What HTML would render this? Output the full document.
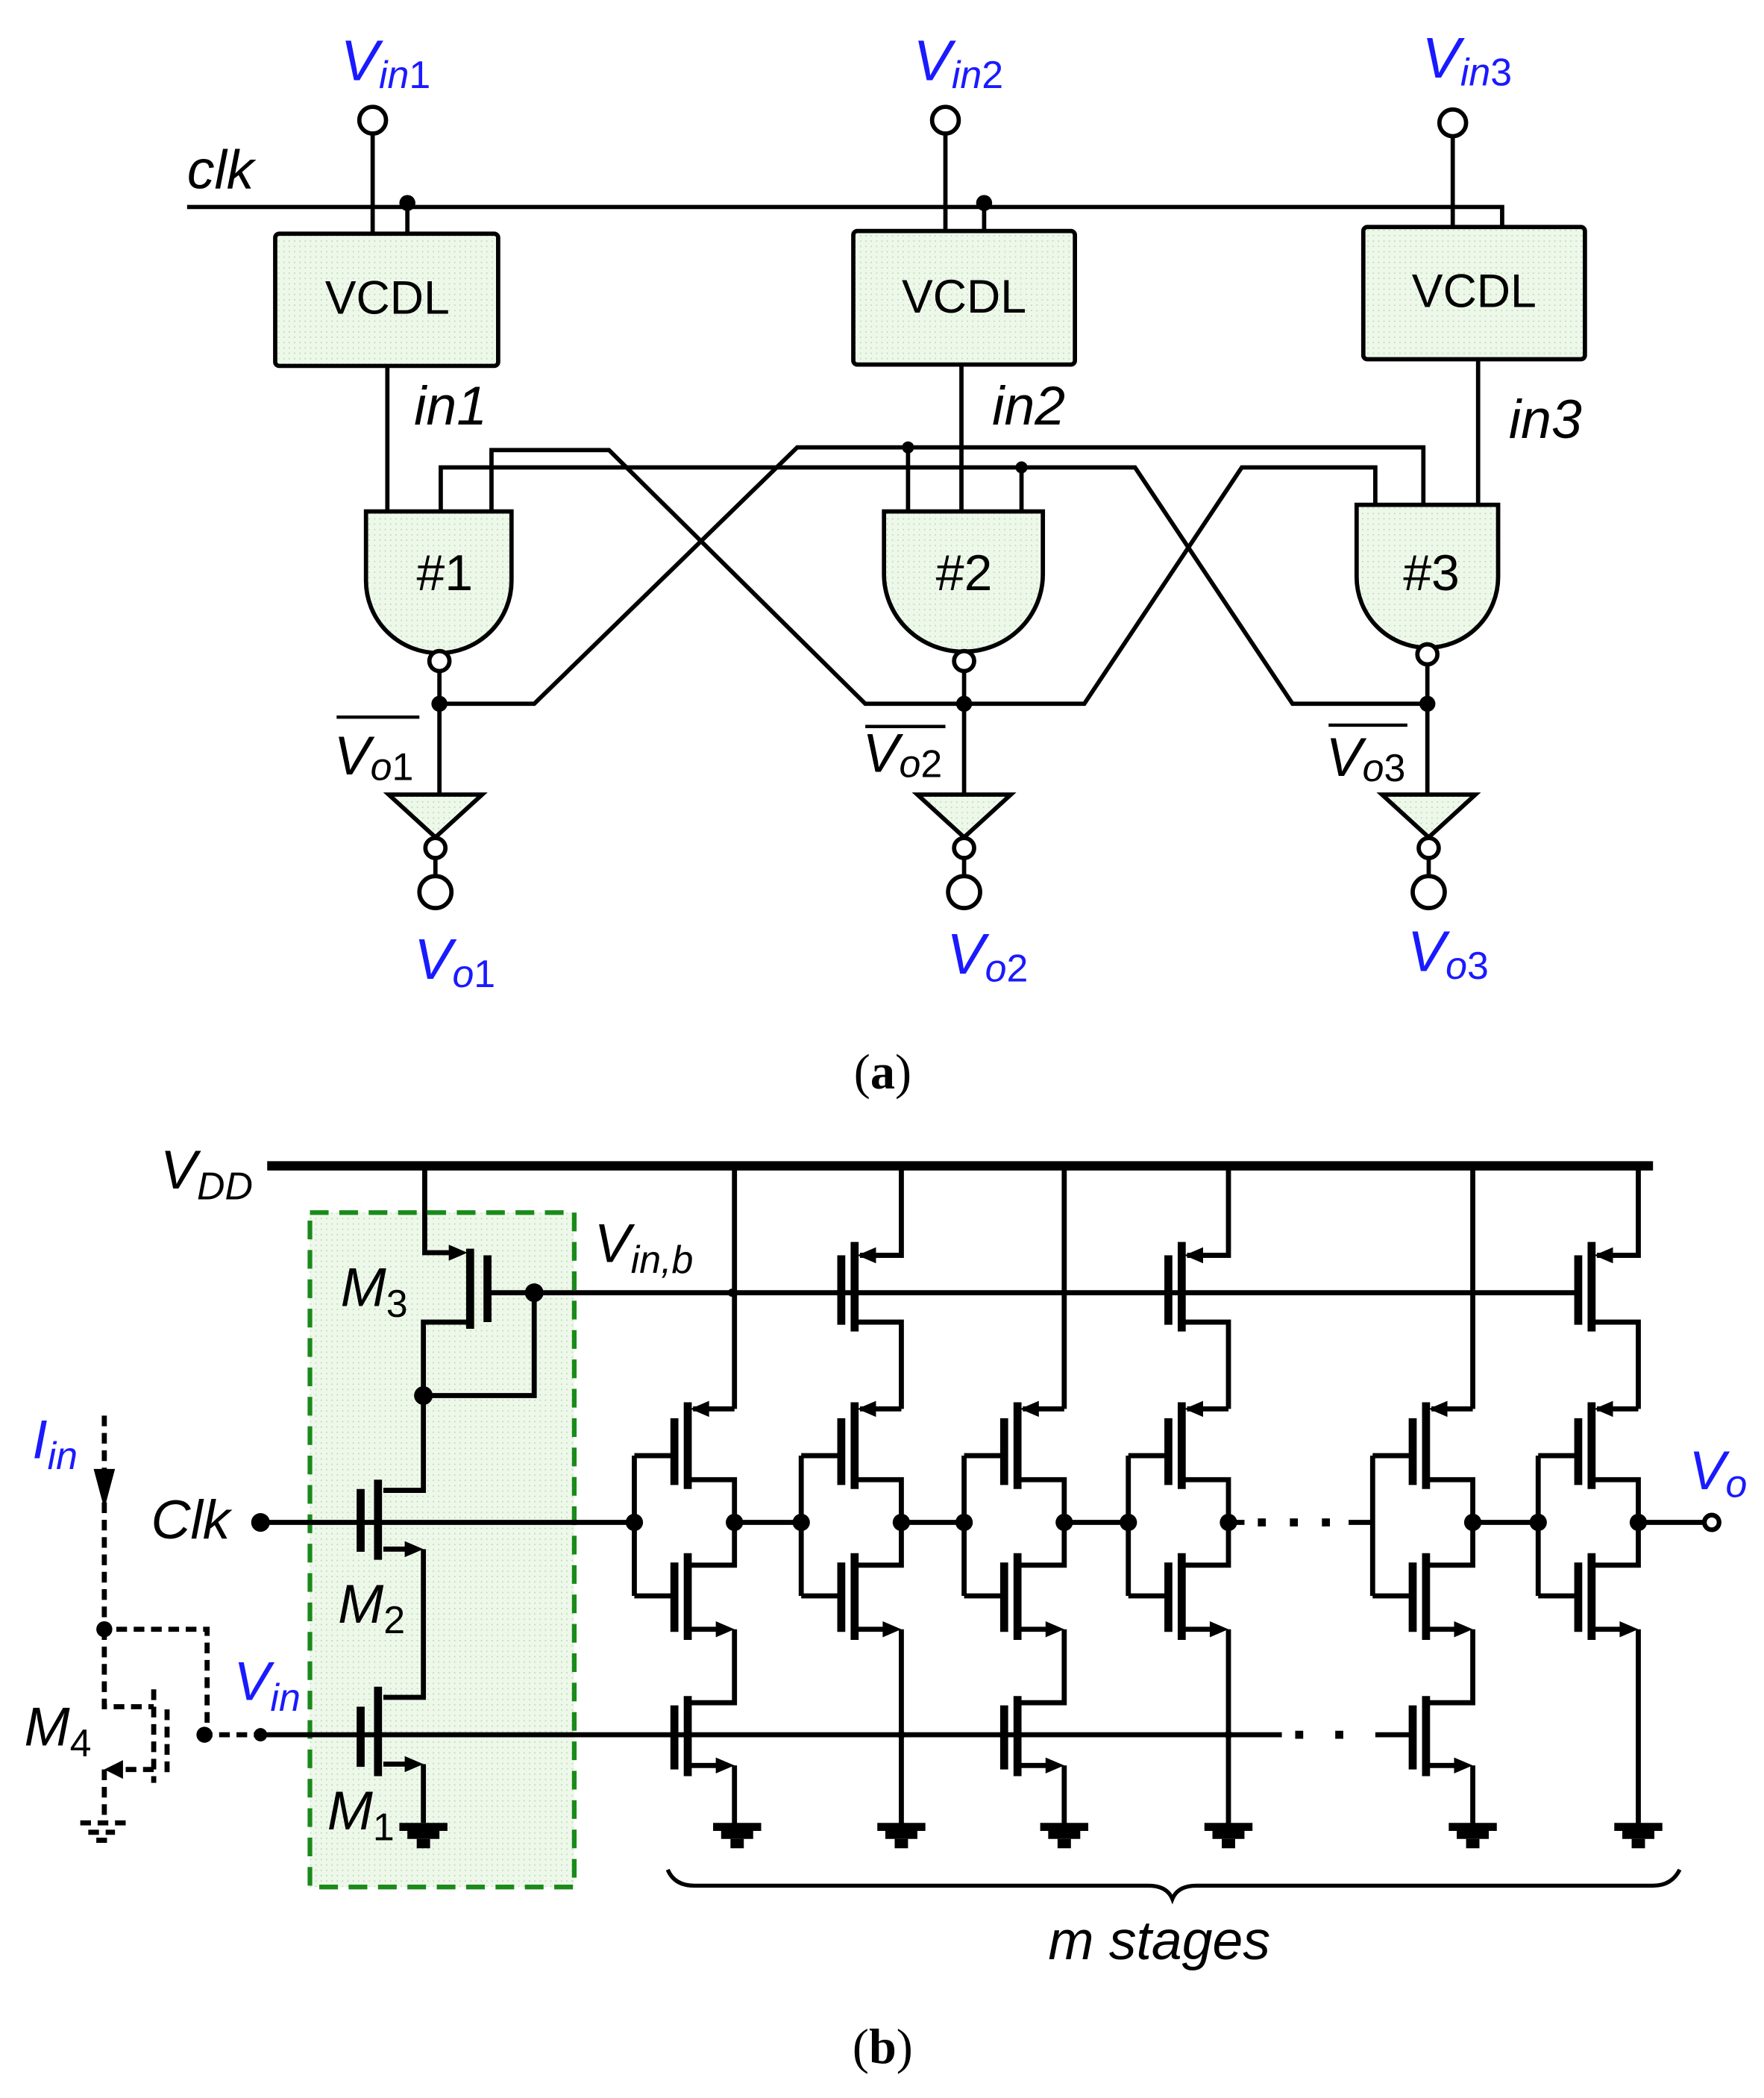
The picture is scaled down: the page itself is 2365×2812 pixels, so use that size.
<!DOCTYPE html>
<html><head><meta charset="utf-8"><style>
html,body{margin:0;padding:0;background:#fff}
svg{display:block}
text{font-family:"Liberation Sans",sans-serif}
</style></head><body>
<svg width="2365" height="2812" viewBox="0 0 1321 1571" xmlns="http://www.w3.org/2000/svg">
<defs>
<pattern id="dots" width="4" height="4" patternUnits="userSpaceOnUse">
<rect width="4" height="4" fill="#eef8ea"/><rect width="1" height="1" fill="#b8e0b0"/>
</pattern>
<g id="inv" stroke="#000" stroke-width="3.8" fill="none">
<path d="M0,1090 V1195 M0,1090 H30 M0,1195 H30"/>
<path d="M30,1062 V1112 M30,1170 V1222" stroke-width="6"/>
<path d="M40,1050 V1115 M40,1163 V1228" stroke-width="6"/>
<path d="M75,1055 H44 M40,1108 H75 V1172 H40 M40,1220 H62"/>
<polygon points="42,1055 56,1049 56,1061" fill="#000" stroke="none"/>
<polygon points="75,1220 61,1214 61,1226" fill="#000" stroke="none"/>
<circle cx="75" cy="1140" r="6.5" fill="#000" stroke="none"/>
</g>
<g id="nbot" stroke="#000" stroke-width="3.8" fill="none">
<path d="M75,1220 V1275 H40 M40,1322 H62 M75,1322 V1368"/>
<path d="M30,1277 V1325 M40,1270 V1330" stroke-width="6"/>
<polygon points="75,1322 61,1316 61,1328" fill="#000" stroke="none"/>
</g>
<g id="ptop" stroke="#000" stroke-width="3.8" fill="none">
<path d="M75,873 V940 H44 M40,990 H75 V1055"/>
<path d="M30,940 V992 M40,930 V997" stroke-width="6"/>
<polygon points="42,940 56,934 56,946" fill="#000" stroke="none"/>
</g>
<g id="gnd" fill="#000">
<rect x="-18" y="1365" width="36" height="6"/><rect x="-12" y="1371" width="24" height="6"/><rect x="-5" y="1377" width="10" height="7"/>
</g>
</defs>

<!-- ===== (a) ===== -->
<g stroke="#000" stroke-width="3.2" fill="none">
<path d="M140,155 H1125 V170"/>
<path d="M279,100 V175 M305,152 V175 M708,100 V173 M737,152 V173 M1088,102 V170"/>
<path d="M290,274 V383 M720,273 V383 M1107,269 V378"/>
<path d="M330,383 V350 H850 L968,527 H1069"/>
<path d="M368,383 V337 H456 L648,527 H722"/>
<path d="M680,383 V335 M765,383 V350"/>
<path d="M329,527 H400 L597,335 H1066 V378"/>
<path d="M1030,378 V350 H930 L812,527 H722"/>
<path d="M329,503 V595 M722,503 V595 M1069,498 V595"/>
</g>
<g fill="#000">
<circle cx="305" cy="152" r="6"/><circle cx="737" cy="152" r="6"/>
<circle cx="680" cy="335" r="4.5"/><circle cx="765" cy="350" r="4.5"/>
<circle cx="329" cy="527" r="6"/><circle cx="722" cy="527" r="6"/><circle cx="1069" cy="527" r="6"/>
</g>
<g stroke="#000" stroke-width="3.2" fill="#fff">
<circle cx="279" cy="90" r="10"/><circle cx="708" cy="90" r="10"/><circle cx="1088" cy="92" r="10"/>
</g>
<g stroke="#000" stroke-width="3.2" fill="url(#dots)">
<rect x="206" y="175" width="167" height="99" rx="3"/>
<rect x="639" y="173" width="166" height="100" rx="3"/>
<rect x="1021" y="170" width="166" height="99" rx="3"/>
<path d="M274,383 H383 V435 A54.5,54 0 0 1 274,435 Z"/>
<path d="M662,383 H781 V430 A59.5,58 0 0 1 662,430 Z"/>
<path d="M1016,378 H1122 V432 A53,53 0 0 1 1016,432 Z"/>
<path d="M291,595 H361 L326,627 Z"/>
<path d="M687,595 H757 L722,627 Z"/>
<path d="M1035,595 H1105 L1070,627 Z"/>
</g>
<g stroke="#000" stroke-width="3.2" fill="#fff">
<circle cx="329" cy="495" r="7.5"/><circle cx="722" cy="495" r="7.5"/><circle cx="1069" cy="490" r="7.5"/>
<circle cx="326" cy="635" r="7.5"/><circle cx="722" cy="635" r="7.5"/><circle cx="1070" cy="635" r="7.5"/>
<path d="M326,643 V655 M722,643 V655 M1070,643 V655" fill="none"/>
<circle cx="326" cy="668" r="12"/><circle cx="722" cy="668" r="12"/><circle cx="1070" cy="668" r="12"/>
</g>
<g font-size="35" text-anchor="middle">
<text x="290" y="235">VCDL</text><text x="722" y="234">VCDL</text><text x="1104" y="230">VCDL</text>
<text x="333" y="442" font-size="38">#1</text><text x="722" y="442" font-size="38">#2</text><text x="1072" y="442" font-size="38">#3</text>
</g>
<g font-size="41" font-style="italic">
<text x="140" y="141">clk</text>
<text x="310" y="318">in1</text><text x="743" y="318">in2</text><text x="1130" y="328">in3</text>
<text x="250" y="580">V<tspan font-size="29" dy="4">o</tspan><tspan font-size="29" font-style="normal">1</tspan></text>
<text x="646" y="578">V<tspan font-size="29" dy="4">o</tspan><tspan font-size="29" font-style="normal">2</tspan></text>
<text x="993" y="581">V<tspan font-size="29" dy="4">o</tspan><tspan font-size="29" font-style="normal">3</tspan></text>
</g>
<g stroke="#000" stroke-width="2.5">
<path d="M252,537 H314 M648,544 H708 M995,543 H1054"/>
</g>
<g font-size="43" font-style="italic" fill="#1a1aff">
<text x="255" y="60">V<tspan font-size="29" dy="6">in</tspan><tspan font-size="29" font-style="normal">1</tspan></text>
<text x="684" y="60">V<tspan font-size="29" dy="6">in</tspan><tspan font-size="29" font-style="normal">2</tspan></text>
<text x="1065" y="58">V<tspan font-size="29" dy="6">in</tspan><tspan font-size="29" font-style="normal">3</tspan></text>
<text x="310" y="733">V<tspan font-size="29" dy="6">o</tspan><tspan font-size="29" font-style="normal">1</tspan></text>
<text x="709" y="729">V<tspan font-size="29" dy="6">o</tspan><tspan font-size="29" font-style="normal">2</tspan></text>
<text x="1054" y="727">V<tspan font-size="29" dy="6">o</tspan><tspan font-size="29" font-style="normal">3</tspan></text>
</g>
<text x="661" y="815" font-size="37" text-anchor="middle" style="font-family:'Liberation Serif',serif">(<tspan font-weight="bold">a</tspan>)</text>

<!-- ===== (b) ===== -->
<rect x="232" y="908" width="198" height="505" fill="url(#dots)" stroke="#1a8a1a" stroke-width="3.5" stroke-dasharray="14,8"/>
<path d="M200,873 H1238" stroke="#000" stroke-width="7"/>
<g stroke="#000" stroke-width="3.8" fill="none">
<path d="M318,873 V938 H345 M350,990 H317 V1045 M317,1045 H400 V968 M365,968 H1183"/>
<path d="M352,935 V995 M365,940 V990" stroke-width="6"/>
<path d="M317,1045 V1116 H287 M287,1160 H306 M317,1160 V1271 H287 M287,1321 H306 M317,1321 V1365"/>
<path d="M283,1108 V1168 M270,1115 V1162 M283,1263 V1330 M270,1278 V1323" stroke-width="6"/>
<path d="M195,1140 H475 M195,1299 H960 M1030,1299 H1058"/>
<path d="M920,1140 H932 M1010,1140 H1028"/>
<path d="M550,1140 H598 M675,1140 H722 M797,1140 H845 M1103,1140 H1150 M1227,1140 H1276"/>
<path d="M550,873 V1055 M797,873 V1055 M1103,873 V1055"/>
<path d="M675,1220 V1368 M920,1220 V1368 M1227,1220 V1368"/>
</g>
<g fill="#000">
<polygon points="317,1160 303,1154 303,1166"/><polygon points="317,1321 303,1315 303,1327"/>
<polygon points="350,938 336,932 336,944"/>
<circle cx="400" cy="968" r="7"/><circle cx="317" cy="1045" r="7"/>
<circle cx="195" cy="1140" r="7"/><circle cx="195" cy="1299" r="5"/>
<circle cx="548" cy="968" r="3"/><circle cx="675" cy="1299" r="3"/><circle cx="920" cy="1299" r="3"/>
<circle cx="475" cy="1140" r="6.5"/><circle cx="600" cy="1140" r="6.5"/><circle cx="722" cy="1140" r="6.5"/><circle cx="845" cy="1140" r="6.5"/><circle cx="1152" cy="1140" r="6.5"/>
<rect x="942" y="1137" width="6" height="6"/><rect x="966" y="1137" width="6" height="6"/><rect x="990" y="1137" width="6" height="6"/>
<rect x="970" y="1296" width="6" height="6"/><rect x="1000" y="1296" width="6" height="6"/>
</g>
<use href="#gnd" x="317"/>
<use href="#inv" x="475"/><use href="#nbot" x="475"/><use href="#gnd" x="552"/>
<use href="#inv" x="600"/><use href="#ptop" x="600"/><use href="#gnd" x="675"/>
<use href="#inv" x="722"/><use href="#nbot" x="722"/><use href="#gnd" x="797"/>
<use href="#inv" x="845"/><use href="#ptop" x="845"/><use href="#gnd" x="920"/>
<use href="#inv" x="1028"/><use href="#nbot" x="1028"/><use href="#gnd" x="1103"/>
<use href="#inv" x="1152"/><use href="#ptop" x="1152"/><use href="#gnd" x="1227"/>
<circle cx="1282" cy="1140" r="5.5" fill="#fff" stroke="#000" stroke-width="3.5"/>
<g stroke="#000" stroke-width="3.8" fill="none" stroke-dasharray="8,5">
<path d="M78,1060 V1220 H155 V1299 H195"/>
<path d="M78,1220 V1278 H115 M115,1265 V1335 M125,1280 V1330 M115,1325 H85 M78,1325 V1360"/>
<path d="M60,1365 H95 M66,1372 H86 M72,1378 H80"/>
</g>
<polygon points="78,1130 70,1100 86,1100" fill="#000"/>
<polygon points="78,1325 92,1318 92,1332" fill="#000"/>
<circle cx="78" cy="1220" r="6" fill="#000"/><circle cx="153" cy="1299" r="6" fill="#000"/>
<path d="M500,1400 Q505,1412 520,1412 H860 Q874,1412 878,1422 Q882,1412 896,1412 H1238 Q1252,1412 1258,1400" stroke="#000" stroke-width="3" fill="none"/>
<g font-size="41" font-style="italic">
<text x="120" y="890">V<tspan font-size="29" dy="8">DD</tspan></text>
<text x="445" y="945">V<tspan font-size="29" dy="8">in,b</tspan></text>
<text x="255" y="978">M<tspan font-size="29" font-style="normal" dy="8">3</tspan></text>
<text x="113" y="1152">Clk</text>
<text x="253" y="1215">M<tspan font-size="29" font-style="normal" dy="8">2</tspan></text>
<text x="18" y="1307">M<tspan font-size="29" font-style="normal" dy="8">4</tspan></text>
<text x="245" y="1370">M<tspan font-size="29" font-style="normal" dy="8">1</tspan></text>
<text x="785" y="1467">m stages</text>
</g>
<g font-size="41" font-style="italic" fill="#1a1aff">
<text x="24" y="1092">I<tspan font-size="29" dy="8">in</tspan></text>
<text x="175" y="1273">V<tspan font-size="29" dy="8">in</tspan></text>
<text x="1265" y="1115">V<tspan font-size="29" dy="6">o</tspan></text>
</g>
<text x="661" y="1545" font-size="37" text-anchor="middle" style="font-family:'Liberation Serif',serif">(<tspan font-weight="bold">b</tspan>)</text>
</svg>
</body></html>
